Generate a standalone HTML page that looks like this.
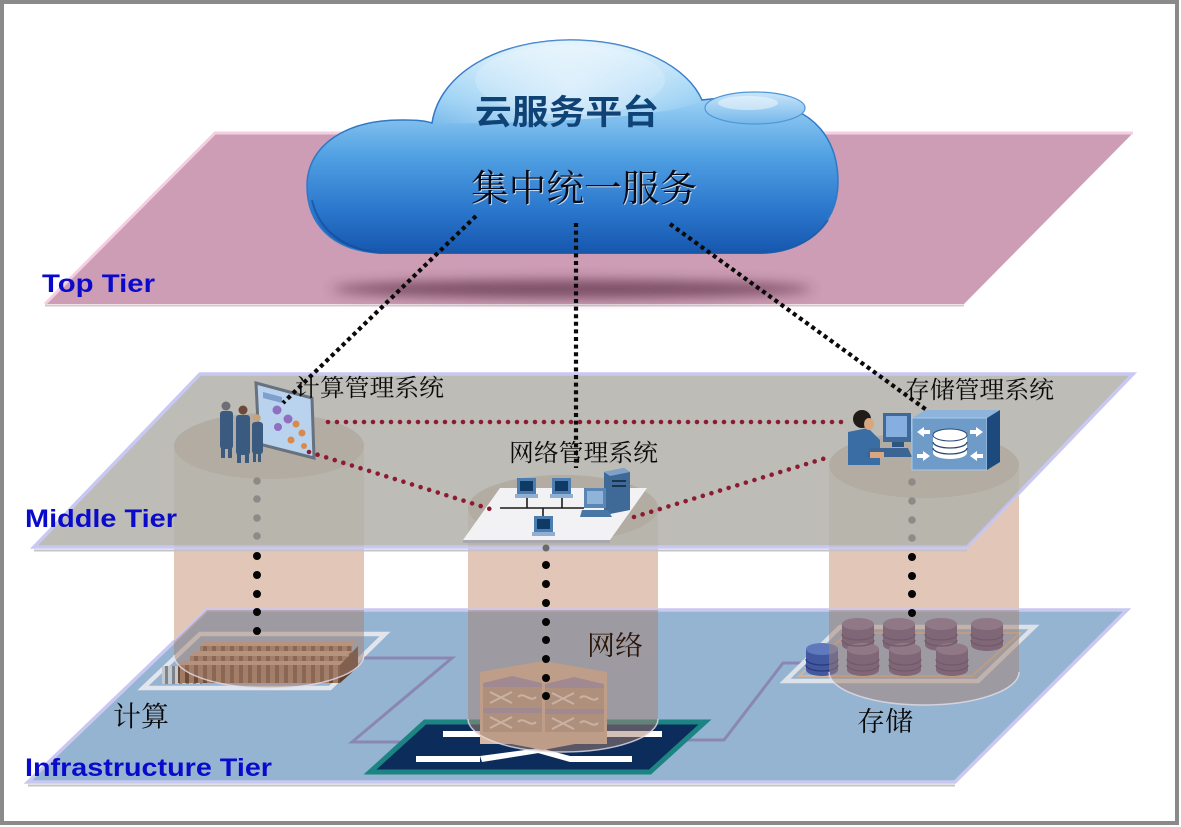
<!DOCTYPE html>
<html><head><meta charset="utf-8">
<style>
html,body{margin:0;padding:0;background:#fff;}
svg{display:block;}
.cn{font-family:"Liberation Serif","Noto Serif CJK SC","Noto Sans CJK SC",serif;}
.lbl{font-family:"Liberation Sans",Arial,sans-serif;font-weight:bold;fill:#0a0acc;font-size:25px;}
</style></head><body>
<svg width="1181" height="827" viewBox="0 0 1181 827" xmlns="http://www.w3.org/2000/svg">
<defs>
 <clipPath id="cInfra"><polygon points="207,610 1127,610 955,782 28,782"/></clipPath>
 <clipPath id="cMid"><polygon points="200,374 1133,374 967,547 34,547"/></clipPath>
 <linearGradient id="gCloud" x1="0" y1="40" x2="0" y2="254" gradientUnits="userSpaceOnUse">
  <stop offset="0" stop-color="#d6eefc"/>
  <stop offset="0.28" stop-color="#99d0f4"/>
  <stop offset="0.55" stop-color="#4f9fe2"/>
  <stop offset="0.8" stop-color="#2a76cc"/>
  <stop offset="1" stop-color="#1656ad"/>
 </linearGradient>
 <radialGradient id="gHi" cx="570" cy="90" r="140" gradientUnits="userSpaceOnUse">
  <stop offset="0" stop-color="#ffffff" stop-opacity="0.55"/>
  <stop offset="1" stop-color="#ffffff" stop-opacity="0"/>
 </radialGradient>
 <linearGradient id="gDrop" x1="0" y1="90" x2="0" y2="126" gradientUnits="userSpaceOnUse">
  <stop offset="0" stop-color="#cfe9fa"/>
  <stop offset="1" stop-color="#6fb4ea"/>
 </linearGradient>
 <filter id="blur" x="-20%" y="-200%" width="140%" height="500%"><feGaussianBlur stdDeviation="6"/></filter>
 <pattern id="pBrown" width="9" height="20" patternUnits="userSpaceOnUse">
  <rect width="9" height="20" fill="#6f4c3a"/><rect width="5" height="20" fill="#a07a62"/>
 </pattern>
 <pattern id="pGray" width="7" height="20" patternUnits="userSpaceOnUse">
  <rect width="7" height="20" fill="#7e848c"/><rect width="4" height="20" fill="#c4c8cf"/>
 </pattern>
</defs>

<!-- frame -->
<rect x="0" y="0" width="1181" height="827" fill="#ffffff"/>
<rect x="2" y="2" width="1175" height="821" fill="#ffffff" stroke="#8a8a8a" stroke-width="4"/>

<!-- TOP TIER plane -->
<polygon points="215,133 1133,133 964,304 45,304" fill="#cc9db4"/>
<polyline points="1133,133 215,133 45,304" fill="none" stroke="#f4cfe1" stroke-width="3"/>
<line x1="45" y1="305.5" x2="964" y2="305.5" stroke="#d8c4cf" stroke-width="2"/>

<!-- cloud shadow -->
<ellipse cx="572" cy="289" rx="240" ry="9" fill="#5e3048" opacity="0.75" filter="url(#blur)"/>

<!-- cloud -->
<path d="M380,253 C330,251 307,222 307,186 C307,146 345,119 405,120 C418,120 426,121 432,123 C440,72 500,40 570,40 C640,40 688,68 702,100 C725,97 770,97 795,110 C826,124 838,152 838,182 C838,227 802,253 760,253 Z" fill="url(#gCloud)" stroke="#2f78c6" stroke-width="1.5"/>
<path d="M432,123 C440,72 500,40 570,40 C640,40 688,68 702,100 C680,120 470,125 432,123 Z" fill="url(#gHi)"/>
<ellipse cx="570" cy="80" rx="95" ry="35" fill="#ffffff" opacity="0.18"/>
<ellipse cx="755" cy="108" rx="50" ry="16" fill="url(#gDrop)" stroke="#4f96d8" stroke-width="1.2"/>
<ellipse cx="748" cy="103" rx="30" ry="7" fill="#ffffff" opacity="0.45"/>
<path d="M312,200 C320,235 350,250 380,253 L760,253 C790,253 815,240 828,220" fill="none" stroke="#0f4a98" stroke-width="2" opacity="0.6"/>

<!-- cloud texts -->
<text x="475" y="124" font-family="'Liberation Sans','Noto Sans CJK SC',sans-serif" font-weight="bold" font-size="34" fill="#0f4376" textLength="184" lengthAdjust="spacingAndGlyphs">云服务平台</text>
<text class="cn" x="472" y="202" font-size="37" fill="#ffffff" opacity="0.7" textLength="226" lengthAdjust="spacingAndGlyphs">集中统一服务</text>
<text class="cn" x="471" y="201" font-size="37" fill="#0a0a14" textLength="226" lengthAdjust="spacingAndGlyphs">集中统一服务</text>

<!-- cylinders (pink, between tiers) -->
<g fill="#e2c6b7">
 <path d="M174,446 A95,33 0 0 1 364,446 L364,655 A95,33 0 0 1 174,655 Z"/>
 <path d="M468,508 A95,33 0 0 1 658,508 L658,719 A95,33 0 0 1 468,719 Z"/>
 <path d="M829,465 A95,33 0 0 1 1019,465 L1019,672 A95,33 0 0 1 829,672 Z"/>
</g>

<!-- INFRA plane -->
<polygon points="207,610 1127,610 955,782 28,782" fill="#95b4d2"/>
<polygon points="207,610 1127,610 955,782 28,782" fill="none" stroke="#c9c8f1" stroke-width="3.5"/>
<line x1="28" y1="785.5" x2="955" y2="785.5" stroke="#c4c4c8" stroke-width="2"/>

<!-- compute frame -->
<polygon points="200,634 385,634 330,688 143,688" fill="none" stroke="#e2e6ec" stroke-width="4.5"/>
<rect x="162" y="666" width="40" height="18" fill="url(#pGray)"/>
<polygon points="205,641 357,641 352,646 200,646" fill="#c9a38a"/>
<rect x="200" y="646" width="152" height="9" fill="url(#pBrown)"/>
<polygon points="195,651 352,651 347,656 190,656" fill="#c9a38a"/>
<rect x="190" y="656" width="157" height="9" fill="url(#pBrown)"/>
<polygon points="183,661 347,661 342,665 178,665" fill="#c6a088"/>
<rect x="178" y="665" width="162" height="18" fill="url(#pBrown)"/>
<polygon points="340,665 358,646 358,667 340,683" fill="#5f3e2e"/>

<!-- purple connectors -->
<polyline points="364,658 452,658 352,742 404,742" fill="none" stroke="#8a87b4" stroke-width="3"/>
<polyline points="683,740 724,740 783,663 808,663" fill="none" stroke="#8a87b4" stroke-width="3"/>

<!-- network base -->
<polygon points="425,722 705,722 650,772 370,772" fill="#0c2d5c" stroke="#1c8482" stroke-width="5" stroke-linejoin="miter"/>
<rect x="443" y="731" width="219" height="6" fill="#ffffff"/>
<rect x="416" y="756" width="64" height="6" fill="#ffffff"/>
<polygon points="480,756 540,748 545,752 482,762" fill="#ffffff"/>
<polygon points="540,748 570,756 570,762 538,753" fill="#ffffff"/>
<rect x="570" y="756" width="62" height="6" fill="#ffffff"/>

<!-- switches -->
<polygon points="480,672 543,661 607,672 607,738 543,750 480,738" fill="#d9bba3"/>
<g>
 <polygon points="483,683 512,676 542,683 512,689" fill="#9d90b4"/>
 <rect x="483" y="683" width="59" height="4" fill="#9d90b4"/>
 <rect x="483" y="687" width="59" height="21" fill="#b89f88"/>
 <rect x="483" y="708" width="59" height="5" fill="#9d90b4"/>
 <rect x="483" y="713" width="59" height="19" fill="#b89f88"/>
 <polygon points="545,684 574,677 604,684 574,690" fill="#9d90b4"/>
 <rect x="545" y="684" width="59" height="4" fill="#9d90b4"/>
 <rect x="545" y="688" width="59" height="21" fill="#b89f88"/>
 <rect x="545" y="709" width="59" height="5" fill="#9d90b4"/>
 <rect x="545" y="714" width="59" height="19" fill="#b89f88"/>
 <g stroke="#efe2d4" stroke-width="2" fill="none">
  <path d="M490,692 L512,703 M490,703 L512,692 M518,697 C524,691 530,703 536,697"/>
  <path d="M490,717 L512,728 M490,728 L512,717 M518,722 C524,716 530,728 536,722"/>
  <path d="M552,693 L574,704 M552,704 L574,693 M580,698 C586,692 592,704 598,698"/>
  <path d="M552,718 L574,729 M552,729 L574,718 M580,723 C586,717 592,729 598,723"/>
 </g>
 <rect x="480" y="732" width="127" height="12" fill="#d7b8a0"/>
</g>

<!-- storage frame & disks -->
<polygon points="840,627 1034,627 978,681 785,681" fill="none" stroke="#dde2e8" stroke-width="4.5"/>
<polygon points="848,633 1020,633 972,676 799,676" fill="none" stroke="#d6b493" stroke-width="2"/>
<g>
 <g fill="#5a4d7e">
  <rect x="842" y="624" width="32" height="21"/><ellipse cx="858" cy="645" rx="16" ry="6"/>
  <rect x="883" y="624" width="32" height="21"/><ellipse cx="899" cy="645" rx="16" ry="6"/>
  <rect x="925" y="624" width="32" height="21"/><ellipse cx="941" cy="645" rx="16" ry="6"/>
  <rect x="971" y="624" width="32" height="21"/><ellipse cx="987" cy="645" rx="16" ry="6"/>
 </g>
 <g fill="#7a6e9e">
  <ellipse cx="858" cy="624" rx="16" ry="6"/><ellipse cx="899" cy="624" rx="16" ry="6"/>
  <ellipse cx="941" cy="624" rx="16" ry="6"/><ellipse cx="987" cy="624" rx="16" ry="6"/>
 </g>
 <g fill="#5a4d7e">
  <rect x="847" y="649" width="32" height="21"/><ellipse cx="863" cy="670" rx="16" ry="6"/>
  <rect x="889" y="649" width="32" height="21"/><ellipse cx="905" cy="670" rx="16" ry="6"/>
  <rect x="936" y="649" width="32" height="21"/><ellipse cx="952" cy="670" rx="16" ry="6"/>
 </g>
 <g fill="#7a6e9e">
  <ellipse cx="863" cy="649" rx="16" ry="6"/><ellipse cx="905" cy="649" rx="16" ry="6"/><ellipse cx="952" cy="649" rx="16" ry="6"/>
 </g>
 <g fill="#4259a2">
  <rect x="806" y="649" width="32" height="21"/><ellipse cx="822" cy="670" rx="16" ry="6"/>
 </g>
 <ellipse cx="822" cy="649" rx="16" ry="6" fill="#6079bd"/>
 <g fill="none" stroke="#3c3262" stroke-width="1.3">
  <path d="M842,634 A16,6 0 0 0 874,634 M842,640 A16,6 0 0 0 874,640"/>
  <path d="M883,634 A16,6 0 0 0 915,634 M883,640 A16,6 0 0 0 915,640"/>
  <path d="M925,634 A16,6 0 0 0 957,634 M925,640 A16,6 0 0 0 957,640"/>
  <path d="M971,634 A16,6 0 0 0 1003,634 M971,640 A16,6 0 0 0 1003,640"/>
  <path d="M847,659 A16,6 0 0 0 879,659 M847,665 A16,6 0 0 0 879,665"/>
  <path d="M889,659 A16,6 0 0 0 921,659 M889,665 A16,6 0 0 0 921,665"/>
  <path d="M936,659 A16,6 0 0 0 968,659 M936,665 A16,6 0 0 0 968,665"/>
  <path d="M806,659 A16,6 0 0 0 838,659 M806,665 A16,6 0 0 0 838,665" stroke="#2a3a78"/>
 </g>
</g>

<!-- cylinder overlay in infra -->
<g clip-path="url(#cInfra)" fill="#a5826f" fill-opacity="0.5">
 <path d="M174,446 A95,33 0 0 1 364,446 L364,655 A95,33 0 0 1 174,655 Z"/>
 <path d="M468,508 A95,33 0 0 1 658,508 L658,719 A95,33 0 0 1 468,719 Z"/>
 <path d="M829,465 A95,33 0 0 1 1019,465 L1019,672 A95,33 0 0 1 829,672 Z"/>
</g>
<g fill="none" stroke="#e6dde8" stroke-width="1.5" opacity="0.8">
 <path d="M174,655 A95,33 0 0 0 364,655"/>
 <path d="M468,719 A95,33 0 0 0 658,719"/>
 <path d="M829,672 A95,33 0 0 0 1019,672"/>
</g>

<!-- MIDDLE plane -->
<polygon points="200,374 1133,374 967,547 34,547" fill="#bdbcb6"/>
<polygon points="200,374 1133,374 967,547 34,547" fill="none" stroke="#c9c8f2" stroke-width="3.5"/>
<line x1="34" y1="550.5" x2="967" y2="550.5" stroke="#c4c4c8" stroke-width="2"/>
<g clip-path="url(#cMid)">
 <g fill="#8a6a55" fill-opacity="0.09">
  <path d="M174,446 A95,33 0 0 1 364,446 L364,655 A95,33 0 0 1 174,655 Z"/>
  <path d="M468,508 A95,33 0 0 1 658,508 L658,719 A95,33 0 0 1 468,719 Z"/>
  <path d="M829,465 A95,33 0 0 1 1019,465 L1019,672 A95,33 0 0 1 829,672 Z"/>
 </g>
 <g fill="#8a6a55" fill-opacity="0.12">
  <ellipse cx="269" cy="446" rx="95" ry="33"/>
  <ellipse cx="563" cy="508" rx="95" ry="33"/>
  <ellipse cx="924" cy="465" rx="95" ry="33"/>
 </g>
</g>

<!-- gray dots (in middle tier) -->
<g fill="#8c8b87">
 <circle cx="257" cy="481" r="3.8"/><circle cx="257" cy="499" r="3.8"/><circle cx="257" cy="518" r="3.8"/><circle cx="257" cy="536" r="3.8"/>
 <circle cx="912" cy="482" r="3.8"/><circle cx="912" cy="501" r="3.8"/><circle cx="912" cy="520" r="3.8"/><circle cx="912" cy="538" r="3.8"/>
</g>

<!-- left icon: people + board -->
<g>
 <polygon points="256,383 312,398 314,458 259,444" fill="#b9d3ee" stroke="#68717e" stroke-width="3"/>
 <polygon points="263,392 282,397 282,403 263,398" fill="#7f9fcc"/>
 <circle cx="277" cy="410" r="4.5" fill="#8e6fc0"/>
 <circle cx="288" cy="419" r="4.5" fill="#8e6fc0"/>
 <circle cx="278" cy="427" r="4" fill="#8e6fc0"/>
 <circle cx="296" cy="424" r="3.5" fill="#d98a4a"/>
 <circle cx="302" cy="433" r="3.5" fill="#d98a4a"/>
 <circle cx="291" cy="440" r="3.5" fill="#d98a4a"/>
 <circle cx="304" cy="446" r="3" fill="#d98a4a"/>
 <g fill="#3a5a80">
  <circle cx="226" cy="406" r="4.5" fill="#6d6f78"/>
  <rect x="220" y="411" width="13" height="38" rx="3"/>
  <rect x="221" y="447" width="4" height="11"/><rect x="228" y="447" width="4" height="11"/>
  <circle cx="243" cy="410" r="4.5" fill="#6a4a3a"/>
  <rect x="236" y="415" width="14" height="40" rx="3"/>
  <rect x="237" y="452" width="4" height="11"/><rect x="245" y="452" width="4" height="11"/>
  <circle cx="257" cy="418" r="3.8" fill="#c9a27a"/>
  <rect x="252" y="422" width="11" height="32" rx="3"/>
  <rect x="253" y="452" width="3" height="10"/><rect x="258" y="452" width="3" height="10"/>
 </g>
</g>

<!-- center network panel -->
<polygon points="463,540 610,540 610,543 463,543" fill="#a9a9ad"/>
<polygon points="500,488 647,488 610,540 463,540" fill="#f2f2f4"/>
<g stroke="#1a1a1a" stroke-width="1.6">
 <line x1="500" y1="508" x2="584" y2="508"/>
 <line x1="527" y1="498" x2="527" y2="508"/>
 <line x1="562" y1="498" x2="562" y2="508"/>
 <line x1="543" y1="508" x2="543" y2="516"/>
</g>
<g>
 <rect x="517" y="478" width="19" height="16" fill="#4e7db0"/><rect x="520" y="481" width="13" height="10" fill="#0f3a66"/><rect x="515" y="494" width="23" height="4" fill="#8fb0d2"/>
 <rect x="552" y="478" width="19" height="16" fill="#4e7db0"/><rect x="555" y="481" width="13" height="10" fill="#0f3a66"/><rect x="550" y="494" width="23" height="4" fill="#8fb0d2"/>
 <rect x="534" y="516" width="19" height="16" fill="#4e7db0"/><rect x="537" y="519" width="13" height="10" fill="#0f3a66"/><rect x="532" y="532" width="23" height="4" fill="#8fb0d2"/>
 <polygon points="604,472 624,468 630,472 630,510 610,514 604,510" fill="#3f6a98"/>
 <polygon points="604,472 624,468 630,472 610,476" fill="#7fa3c8"/>
 <rect x="612" y="480" width="14" height="2" fill="#1c3350"/><rect x="612" y="485" width="14" height="2" fill="#1c3350"/>
 <rect x="584" y="488" width="22" height="20" fill="#5a86b5"/><rect x="587" y="491" width="16" height="13" fill="#8fb3d9"/>
 <polygon points="582,510 608,510 612,517 580,517" fill="#4a76a5"/>
</g>

<!-- right icon: person + computer + storage box -->
<g>
 <polygon points="848,432 868,428 880,440 880,465 848,465" fill="#3b6da5"/>
 <circle cx="862" cy="419" r="9" fill="#221c18"/>
 <ellipse cx="869" cy="424" rx="5" ry="6" fill="#d9a77f"/>
 <rect x="883" y="413" width="28" height="29" fill="#3f6a98"/>
 <rect x="886" y="416" width="21" height="21" fill="#86aee0"/>
 <rect x="892" y="442" width="12" height="5" fill="#2e5580"/>
 <polygon points="870,448 908,448 912,457 866,457" fill="#3d6593"/>
 <polygon points="870,452 884,452 884,458 870,458" fill="#d9a77f"/>
 <polygon points="912,418 925,410 1000,410 987,418" fill="#8fb4dc"/>
 <rect x="912" y="418" width="75" height="52" fill="#6e9bc8" stroke="#a8c8e8" stroke-width="1"/>
 <polygon points="987,418 1000,410 1000,462 987,470" fill="#1d4a7d"/>
 <g fill="#ffffff">
  <rect x="933" y="435" width="34" height="18"/>
  <ellipse cx="950" cy="453" rx="17" ry="6"/>
  <ellipse cx="950" cy="435" rx="17" ry="6" stroke="#2a4a70" stroke-width="1"/>
  <polygon points="917,432 924,427 924,430 930,430 930,434 924,434 924,437"/>
  <polygon points="983,432 976,427 976,430 970,430 970,434 976,434 976,437"/>
  <polygon points="930,456 923,451 923,454 917,454 917,458 923,458 923,461"/>
  <polygon points="970,456 977,451 977,454 983,454 983,458 977,458 977,461"/>
 </g>
 <path d="M933,442 A17,6 0 0 0 967,442 M933,448 A17,6 0 0 0 967,448" fill="none" stroke="#2a4a70" stroke-width="1.3"/>
</g>

<!-- black dotted lines from cloud -->
<g stroke="#0a0a0a" stroke-width="4.2" stroke-dasharray="4 3.6" fill="none">
 <line x1="476" y1="216" x2="283" y2="403"/>
 <line x1="576" y1="223" x2="576" y2="468"/>
 <line x1="670" y1="224" x2="928" y2="411"/>
</g>

<!-- red dotted lines -->
<g stroke="#8e1a32" stroke-width="4.6" stroke-linecap="round" stroke-dasharray="0 9" fill="none">
 <line x1="328" y1="422" x2="847" y2="422"/>
 <line x1="309" y1="452" x2="490" y2="509"/>
 <line x1="634" y1="517" x2="826" y2="458"/>
</g>

<!-- black vertical dots -->
<g fill="#050505">
 <circle cx="257" cy="556" r="4"/><circle cx="257" cy="575" r="4"/><circle cx="257" cy="594" r="4"/><circle cx="257" cy="612" r="4"/><circle cx="257" cy="631" r="4"/>
 <circle cx="546" cy="565" r="4"/><circle cx="546" cy="584" r="4"/><circle cx="546" cy="603" r="4"/><circle cx="546" cy="622" r="4"/><circle cx="546" cy="640" r="4"/><circle cx="546" cy="659" r="4"/><circle cx="546" cy="678" r="4"/><circle cx="546" cy="696" r="4"/>
 <circle cx="912" cy="557" r="4"/><circle cx="912" cy="576" r="4"/><circle cx="912" cy="594" r="4"/><circle cx="912" cy="613" r="4"/>
</g>
<circle cx="546" cy="548" r="3.5" fill="#6a6a6a"/>

<!-- labels -->
<text class="cn" x="295" y="396" font-size="24" fill="#0a0a0a" textLength="149" lengthAdjust="spacingAndGlyphs">计算管理系统</text>
<text class="cn" x="509" y="461" font-size="24" fill="#0a0a0a" textLength="149" lengthAdjust="spacingAndGlyphs">网络管理系统</text>
<text class="cn" x="905" y="398" font-size="24" fill="#0a0a0a" textLength="149" lengthAdjust="spacingAndGlyphs">存储管理系统</text>
<text class="cn" x="587" y="655" font-size="27" fill="#2a1408" textLength="56" lengthAdjust="spacingAndGlyphs">网络</text>
<text class="cn" x="113" y="726" font-size="28" fill="#0a0a0a" textLength="56" lengthAdjust="spacingAndGlyphs">计算</text>
<text class="cn" x="857" y="731" font-size="27" fill="#0a0a0a" textLength="56" lengthAdjust="spacingAndGlyphs">存储</text>

<text class="lbl" x="42" y="292" textLength="113" lengthAdjust="spacingAndGlyphs">Top Tier</text>
<text class="lbl" x="25" y="527" textLength="152" lengthAdjust="spacingAndGlyphs">Middle Tier</text>
<text class="lbl" x="25" y="776" textLength="247" lengthAdjust="spacingAndGlyphs">Infrastructure Tier</text>
</svg>
</body></html>
